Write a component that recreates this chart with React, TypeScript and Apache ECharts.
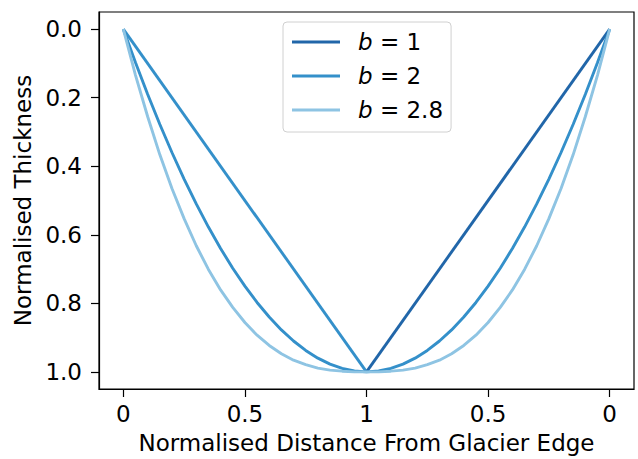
import React, { useEffect, useRef } from "react";
import * as echarts from "echarts";

// Normalised distance positions (0 → 1 → 0 folded onto 0..2)
const xs = [
  0, 0.05, 0.1, 0.15, 0.2, 0.25, 0.3, 0.35, 0.4, 0.45, 0.5, 0.55, 0.6, 0.65, 0.7, 0.75, 0.8, 0.85, 0.9, 0.95, 1,
  1.05, 1.1, 1.15, 1.2, 1.25, 1.3, 1.35, 1.4, 1.45, 1.5, 1.55, 1.6, 1.65, 1.7, 1.75, 1.8, 1.85, 1.9, 1.95, 2,
];
// b = 1 (straight V); left limb drawn in mid blue, right limb dark blue
const b1LeftX = [0, 1];
const b1LeftY = [0, 1];
const b1RightX = [1, 2];
const b1RightY = [1, 0];
// b = 2
const b2 = [
  0, 0.0975, 0.19, 0.2775, 0.36, 0.4375, 0.51, 0.5775, 0.64, 0.6975, 0.75, 0.7975, 0.84, 0.8775, 0.91, 0.9375, 0.96,
  0.9775, 0.99, 0.9975, 1, 0.9975, 0.99, 0.9775, 0.96, 0.9375, 0.91, 0.8775, 0.84, 0.7975, 0.75, 0.6975, 0.64, 0.5775,
  0.51, 0.4375, 0.36, 0.2775, 0.19, 0.0975, 0,
];
// b = 2.8
const b28 = [
  0, 0.134, 0.255, 0.366, 0.465, 0.553, 0.632, 0.701, 0.761, 0.812, 0.856, 0.893, 0.923, 0.947, 0.966, 0.979, 0.989,
  0.995, 0.998, 1.0, 1.0, 1.0, 0.998, 0.995, 0.989, 0.979, 0.966, 0.947, 0.923, 0.893, 0.856, 0.812, 0.761, 0.701,
  0.632, 0.553, 0.465, 0.366, 0.255, 0.134, 0,
];
const xTicks = [0, 0.5, 1, 1.5, 2];
const yTicks = [0, 0.2, 0.4, 0.6, 0.8, 1.0];
const names = ["b = 1", "b = 2", "b = 2.8"];

const C1 = "#2166a9";
const C2 = "#3490ca";
const C3 = "#8ec4e3";
const FONT = "DejaVu Sans";
const FS = 23;

export default function App() {
  const ref = useRef<HTMLDivElement>(null);
  useEffect(() => {
    if (!ref.current) return;
    const chart = echarts.init(ref.current, undefined, { renderer: "svg" });
    const pair = (xa: number[], ya: number[]) => xa.map((x, i) => [x, ya[i]]);
    const lw = 2.9;
    chart.setOption({
      animation: false,
      textStyle: { fontFamily: FONT },
      grid: {
        left: 99,
        right: 4,
        top: 12,
        bottom: 70,
        containLabel: false,
        outerBoundsMode: "none",
        show: true,
        borderColor: "#000",
        borderWidth: 1.2,
      },
      legend: {
        data: names,
        orient: "vertical",
        left: 283,
        top: 22,
        icon: "rect",
        itemWidth: 48,
        itemHeight: 3,
        itemGap: 6,
        padding: [6, 8, 8, 9],
        backgroundColor: "#fff",
        borderColor: "#d0d0d0",
        borderWidth: 1,
        borderRadius: 4,
        formatter: (n: string) => "{i|b} " + n.slice(2),
        textStyle: {
          fontFamily: FONT,
          fontSize: FS,
          color: "#000",
          lineHeight: 28,
          padding: [0, 0, 0, 13],
          rich: {
            i: { fontFamily: FONT, fontSize: FS, fontStyle: "italic", color: "#000", lineHeight: 28 },
          },
        },
      },
      xAxis: {
        type: "value",
        min: -0.1,
        max: 2.1,
        name: "Normalised Distance From Glacier Edge",
        nameLocation: "middle",
        nameGap: 42,
        nameTextStyle: { fontFamily: FONT, fontSize: FS, color: "#000" },
        splitLine: { show: false },
        axisLine: { show: true, onZero: false, lineStyle: { color: "#000", width: 1.2 } },
        axisTick: { show: true, length: 8, customValues: xTicks, lineStyle: { color: "#000", width: 1.2 } },
        axisLabel: {
          customValues: xTicks,
          margin: 13,
          fontFamily: FONT,
          fontSize: FS,
          color: "#000",
          formatter: (v: number) => {
            const d = v <= 1 ? v : 2 - v;
            return String(Math.round(d * 10) / 10);
          },
        },
      },
      yAxis: {
        type: "value",
        inverse: true,
        min: -0.05,
        max: 1.05,
        name: "Normalised Thickness",
        nameLocation: "middle",
        nameGap: 62,
        nameTextStyle: { fontFamily: FONT, fontSize: FS, color: "#000" },
        splitLine: { show: false },
        axisLine: { show: true, onZero: false, lineStyle: { color: "#000", width: 1.2 } },
        axisTick: { show: true, length: 8, customValues: yTicks, lineStyle: { color: "#000", width: 1.2 } },
        axisLabel: {
          customValues: yTicks,
          margin: 17,
          fontFamily: FONT,
          fontSize: FS,
          color: "#000",
          formatter: (v: number) => v.toFixed(1),
        },
      },
      series: [
        {
          name: "b = 1 left",
          type: "line",
          data: pair(b1LeftX, b1LeftY),
          symbol: "none",
          lineStyle: { color: C2, width: lw },
          itemStyle: { color: C2 },
          z: 2,
        },
        {
          name: names[0],
          type: "line",
          data: pair(b1RightX, b1RightY),
          symbol: "none",
          lineStyle: { color: C1, width: lw },
          itemStyle: { color: C1 },
          z: 3,
        },
        {
          name: names[1],
          type: "line",
          data: pair(xs, b2),
          symbol: "none",
          lineStyle: { color: C2, width: lw },
          itemStyle: { color: C2 },
          z: 4,
        },
        {
          name: names[2],
          type: "line",
          data: pair(xs, b28),
          symbol: "none",
          lineStyle: { color: C3, width: lw },
          itemStyle: { color: C3 },
          z: 5,
        },
      ],
    });
    return () => chart.dispose();
  }, []);
  return <div ref={ref} style={{ width: 638, height: 459, position: "fixed", left: 0, top: 0, background: "#fff" }} />;
}
